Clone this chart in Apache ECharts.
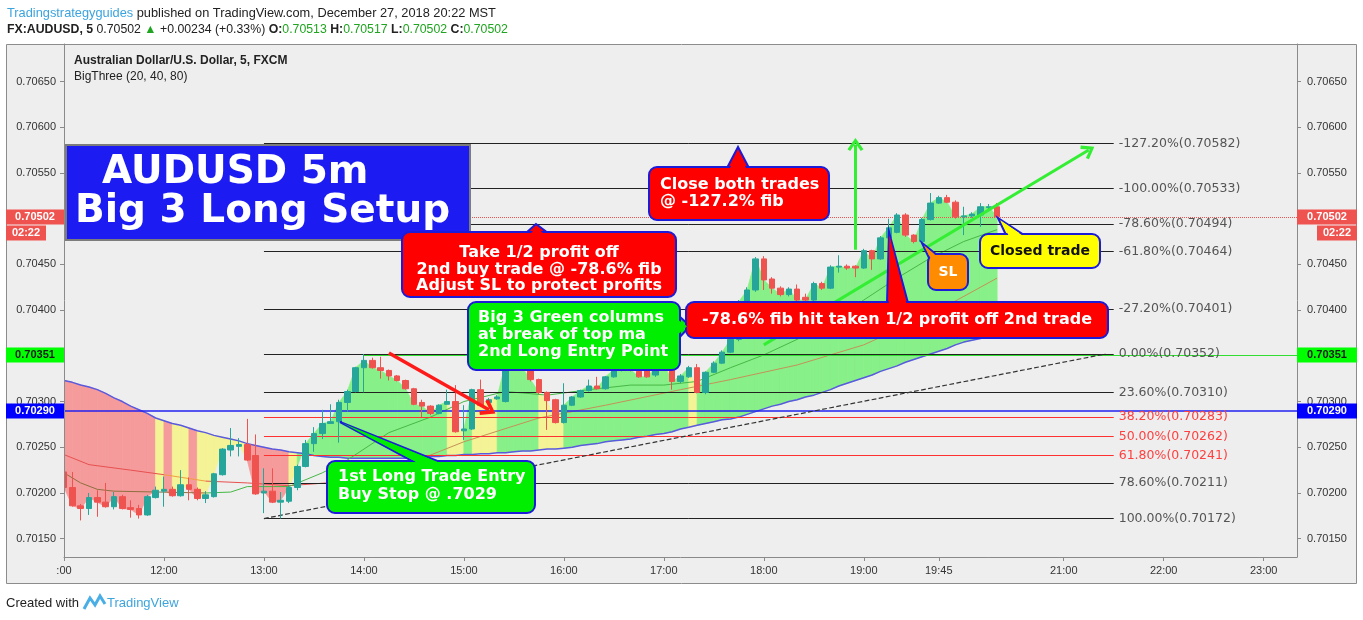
<!DOCTYPE html>
<html>
<head>
<meta charset="utf-8">
<script src="https://cdn.jsdelivr.net/npm/echarts@6.0.0/dist/echarts.min.js"></script>
<style>
html,body{margin:0;padding:0;background:#ffffff;}
#chart{width:1363px;height:620px;}
</style>
</head>
<body>
<div id="chart"></div>
<script>
// ---------------- DATA ----------------
// 5-minute categories 11:00 .. 23:20
const times = [];
for (let i = 0; i < 149; i++) {
  const m = 11 * 60 + i * 5;
  times.push(String(Math.floor(m / 60)).padStart(2, '0') + ':' + String(m % 60).padStart(2, '0'));
}
const timeTicks = ['11:00','12:00','13:00','14:00','15:00','16:00','17:00','18:00','19:00','19:45','21:00','22:00','23:00'];
const priceTicks = ['0.70150','0.70200','0.70250','0.70300','0.70350','0.70400','0.70450','0.70500','0.70550','0.70600','0.70650'];

// candles: [open, close, low, high]
const candles = [
[0.70223,0.70206,0.70203,0.70225],[0.70206,0.70186,0.70185,0.70223],[0.70186,0.70183,0.70170,0.70188],[0.70183,0.70195,0.70176,0.70200],
[0.70195,0.70190,0.70174,0.70203],[0.70190,0.70185,0.70184,0.70211],[0.70185,0.70196,0.70182,0.70201],[0.70196,0.70183,0.70182,0.70198],
[0.70184,0.70182,0.70173,0.70192],[0.70183,0.70176,0.70172,0.70187],[0.70176,0.70196,0.70175,0.70198],[0.70195,0.70203,0.70194,0.70207],
[0.70202,0.70204,0.70185,0.70218],[0.70204,0.70197,0.70196,0.70207],[0.70197,0.70209,0.70196,0.70225],[0.70209,0.70204,0.70192,0.70217],
[0.70204,0.70194,0.70192,0.70206],[0.70194,0.70198,0.70189,0.70202],[0.70196,0.70221,0.70195,0.70222],[0.70220,0.70248,0.70219,0.70249],
[0.70247,0.70252,0.70240,0.70271],[0.70251,0.70253,0.70240,0.70260],[0.70253,0.70236,0.70235,0.70281],[0.70241,0.70199,0.70198,0.70264],
[0.70200,0.70202,0.70178,0.70227],[0.70202,0.70190,0.70189,0.70227],[0.70190,0.70192,0.70172,0.70201],[0.70191,0.70206,0.70189,0.70209],
[0.70206,0.70229,0.70203,0.70231],[0.70229,0.70254,0.70228,0.70258],[0.70254,0.70265,0.70245,0.70272],[0.70265,0.70276,0.70259,0.70291],
[0.70276,0.70278,0.70276,0.70297],[0.70278,0.70299,0.70255,0.70302],[0.70299,0.70311,0.70289,0.70313],[0.70311,0.70337,0.70310,0.70338],
[0.70337,0.70345,0.70310,0.70352],[0.70345,0.70337,0.70336,0.70348],[0.70337,0.70334,0.70325,0.70349],[0.70334,0.70328,0.70323,0.70335],
[0.70328,0.70323,0.70322,0.70329],[0.70323,0.70314,0.70313,0.70324],[0.70314,0.70297,0.70296,0.70315],[0.70299,0.70295,0.70283,0.70302],
[0.70295,0.70287,0.70285,0.70296],[0.70287,0.70296,0.70286,0.70297],[0.70297,0.70300,0.70297,0.70313],[0.70300,0.70267,0.70266,0.70318],
[0.70268,0.70270,0.70258,0.70296],[0.70270,0.70313,0.70269,0.70314],[0.70313,0.70296,0.70295,0.70324],[0.70299,0.70302,0.70296,0.70304],
[0.70303,0.70305,0.70302,0.70307],[0.70300,0.70342,0.70299,0.70346],[0.70342,0.70348,0.70340,0.70351],[0.70348,0.70337,0.70335,0.70350],
[0.70335,0.70324,0.70322,0.70337],[0.70324,0.70310,0.70308,0.70325],[0.70310,0.70301,0.70269,0.70311],[0.70302,0.70277,0.70276,0.70303],
[0.70277,0.70296,0.70276,0.70320],[0.70296,0.70305,0.70295,0.70306],[0.70305,0.70312,0.70304,0.70313],[0.70312,0.70317,0.70311,0.70324],
[0.70317,0.70314,0.70313,0.70327],[0.70314,0.70327,0.70313,0.70328],[0.70327,0.70335,0.70326,0.70336],[0.70335,0.70339,0.70333,0.70341],
[0.70339,0.70335,0.70333,0.70342],[0.70333,0.70327,0.70326,0.70336],[0.70335,0.70327,0.70326,0.70337],[0.70329,0.70337,0.70327,0.70340],
[0.70337,0.70341,0.70335,0.70345],[0.70337,0.70322,0.70313,0.70341],[0.70322,0.70328,0.70320,0.70330],[0.70327,0.70337,0.70326,0.70339],
[0.70337,0.70310,0.70309,0.70341],[0.70310,0.70332,0.70308,0.70333],[0.70332,0.70342,0.70331,0.70344],[0.70342,0.70354,0.70341,0.70356],
[0.70354,0.70368,0.70353,0.70370],[0.70368,0.70409,0.70366,0.70411],[0.70409,0.70422,0.70408,0.70425],[0.70422,0.70456,0.70420,0.70458],
[0.70456,0.70433,0.70422,0.70459],[0.70434,0.70424,0.70418,0.70436],[0.70424,0.70417,0.70415,0.70426],[0.70417,0.70423,0.70415,0.70425],
[0.70423,0.70411,0.70409,0.70428],[0.70414,0.70411,0.70405,0.70418],[0.70411,0.70429,0.70409,0.70431],[0.70429,0.70424,0.70422,0.70431],
[0.70424,0.70447,0.70423,0.70449],[0.70447,0.70448,0.70441,0.70460],[0.70448,0.70446,0.70444,0.70450],[0.70448,0.70446,0.70436,0.70449],
[0.70446,0.70465,0.70445,0.70467],[0.70465,0.70456,0.70444,0.70466],[0.70456,0.70479,0.70455,0.70481],[0.70479,0.70490,0.70478,0.70500],
[0.70485,0.70504,0.70484,0.70506],[0.70504,0.70482,0.70480,0.70506],[0.70482,0.70475,0.70473,0.70483],[0.70475,0.70499,0.70474,0.70501],
[0.70499,0.70517,0.70498,0.70528],[0.70517,0.70523,0.70516,0.70525],[0.70523,0.70518,0.70517,0.70526],[0.70518,0.70502,0.70500,0.70520],
[0.70502,0.70503,0.70482,0.70513],[0.70503,0.70505,0.70501,0.70507],[0.70504,0.70513,0.70491,0.70517],[0.70512,0.70513,0.70509,0.70516],
[0.70513,0.70502,0.70502,0.70517]
];

// slow MA (80), one value per candle
const ma80 = [
0.70323,0.70321,0.70318,0.70316,0.70313, 0.70309,0.70304,0.70300,0.70295, 0.70291,0.70287,0.70282,
0.70279,0.70276,0.70274,0.70271, 0.70268,0.70266,0.70263,0.70261, 0.70259,0.70257,0.70254,0.70252,
0.70250,0.70248,0.70247,0.70245, 0.70244,0.70243,0.70241,0.70240, 0.70239,0.70239,0.70238,0.70238,
0.70238,0.70238,0.70238,0.70238,0.70238, 0.70238,0.70239,0.70239,0.70240,0.70240, 0.70241,0.70241,0.70242,
0.70242,0.70243,0.70243,0.70244,0.70244,0.70245, 0.70246,0.70246,0.70247,0.70248,0.70248,0.70249,
0.70250,0.70252,0.70253,0.70254,0.70256,0.70257, 0.70258,0.70259,0.70261,0.70262,0.70264,0.70265,
0.70267,0.70270,0.70272, 0.70274,0.70276,0.70278,0.70280,0.70281,0.70283, 0.70286,0.70289,0.70292,0.70295,0.70297,0.70300,
0.70302,0.70305,0.70307, 0.70310,0.70313,0.70317,0.70320,0.70323,0.70326, 0.70329,0.70333,0.70336,0.70339,0.70343,0.70346,
0.70349,0.70352,0.70355,0.70358,0.70362,0.70365, 0.70367,0.70369,0.70371,0.70373
];
// medium MA (40), read at sample bars [barIndex, price]
const ma40 = [[0,0.70242],[3,0.70231],[8,0.70225],[12,0.70220],[17,0.70213],[22,0.70211],[27,0.70208],[33,0.70212],
[40,0.70227],[48,0.70256],[57,0.70282],[65,0.70296],[74,0.70313],[80,0.70324],[88,0.70340],[96,0.70362],[104,0.70395],[112,0.70435]];
// fast MA (20), read at sample bars [barIndex, price]
const ma20 = [[0,0.70222],[2,0.70211],[4,0.70204],[6,0.70202],[17,0.70200],[20,0.70201],[22,0.70207],[27,0.70207],[31,0.70222],
[34,0.70236],[39,0.70266],[44,0.70283],[48,0.70300],[53,0.70311],[58,0.70307],[63,0.70313],[68,0.70318],[72,0.70318],[76,0.70322],
[80,0.70337],[84,0.70351],[88,0.70368],[92,0.70387],[96,0.70411],[100,0.70435],[104,0.70457],[108,0.70475],[112,0.70488]];
// colour runs of the two faster MAs: [fromBar, toBar]
const ma40Runs = {red1: [0, 12], orange: [12, 17], red2: [17, 33], rising: [33, 112]};
const ma20Runs = {flat: [0, 17], rising: [17, 112]};
// column state between consecutive bars: r = below, y = mixed, g = above
const columnState = ('rrrrrrrrrrr' + 'y' + 'r' + 'yy' + 'r' + 'yyyyyy' + 'rrrrr' + 'y' + 'gggggggggggggggggg' + 'yy' + 'g' + 'yyy' +
  'ggggg' + 'yyy' + 'ggggggggggggggg' + 'y' + 'gggggggggggggggggggggggggggggggggggg').split('');

// Fibonacci levels
const fibPercents = ['-127.20%','-100.00%','-78.60%','-61.80%','-27.20%','0.00%','23.60%','38.20%','50.00%','61.80%','78.60%','100.00%'];
const fibPrices = [0.70582,0.70533,0.70494,0.70464,0.70401,0.70352,0.70310,0.70283,0.70262,0.70241,0.70211,0.70172];
const fibRed = ['38.20%','50.00%','61.80%'];

// horizontal price markers
const lastPrice = 0.70502, greenLevel = 0.70351, blueLevel = 0.70290;

// ---------------- CHART ----------------
const chart = echarts.init(document.getElementById('chart'), null, {width: 1363, height: 620, renderer: 'canvas'});
const FIB_FROM = 24, FIB_TO = 126, LAST_CAT = times.length - 1;
const SANS = '"Liberation Sans", Arial, sans-serif';
const colMap = {r: '#f59b9b', y: '#f4f396', g: '#88f088'};

const fillData = [];
for (let k = 0; k < candles.length - 1; k++) {
  fillData.push([k, ma80[k], candles[k][1], ma80[k + 1], candles[k + 1][1]]);
}

const tickFn = (idx, val) => timeTicks.indexOf(val) >= 0;
const fmtPrice = v => { const s = v.toFixed(5); return priceTicks.indexOf(s) >= 0 ? s : ''; };
const runPts = (pts, run) => pts.filter(p => p[0] >= run[0] && p[0] <= run[1]);
const maLine = (name, pts, color) => ({name: name, type: 'line', z: 3, data: pts, symbol: 'none', silent: true, lineStyle: {color: color, width: 1}});

const chevron = 'path://M5,0 L10,8.5 L8.3,10 L5,4 L1.7,10 L0,8.5 Z';

const levelLines = [];
levelLines.push([{coord: [36, greenLevel], lineStyle: {color: '#30dd30', width: 1, type: 'solid'}}, {coord: [LAST_CAT, greenLevel]}]);
fibPrices.forEach((p, j) => {
  const red = fibRed.indexOf(fibPercents[j]) >= 0;
  levelLines.push([
    {coord: [FIB_FROM, p], lineStyle: {color: red ? '#ff3030' : '#222222', width: 1, type: 'solid'},
     label: {show: true, position: 'end', distance: 5, formatter: fibPercents[j] + '(' + p.toFixed(5) + ')',
             color: red ? '#ff4040' : '#555555', fontSize: 12.5, fontFamily: '"DejaVu Sans", sans-serif'}},
    {coord: [FIB_TO, p]}
  ]);
});
levelLines.push([{coord: [0, blueLevel], lineStyle: {color: '#2020f0', width: 1.5, type: 'solid'}}, {coord: [LAST_CAT, blueLevel]}]);
levelLines.push([{coord: [0, lastPrice], lineStyle: {color: '#ef5350', width: 1, type: 'dotted'}}, {coord: [LAST_CAT, lastPrice]}]);
levelLines.push([{coord: [FIB_FROM, fibPrices[11]], lineStyle: {color: '#333333', width: 1.2, type: 'dashed'}}, {coord: [125, fibPrices[5]]}]);

const drawings = [
  [{coord: [39, 0.70353], lineStyle: {color: '#ff1a1a', width: 3.5, type: 'solid'}}, {coord: [51, 0.70291], symbol: chevron, symbolSize: [18, 15]}],
  [{coord: [95, 0.70466], lineStyle: {color: '#33ee33', width: 3, type: 'solid'}}, {coord: [95, 0.70581], symbol: chevron, symbolSize: [16, 13]}],
  [{coord: [84, 0.70362], lineStyle: {color: '#33ee33', width: 3, type: 'solid'}}, {coord: [123, 0.70575], symbol: chevron, symbolSize: [16, 13]}]
];

const yAxisBase = {
  type: 'value', min: 0.70130, max: 0.70691, splitNumber: 11, scale: true, z: 20,
  splitLine: {show: false},
  axisLine: {show: true, lineStyle: {color: '#8a8a8a'}},
  axisTick: {show: true, length: 4, lineStyle: {color: '#8a8a8a'}},
  axisLabel: {color: '#333', fontSize: 11, fontFamily: SANS, formatter: fmtPrice, showMinLabel: false, showMaxLabel: false, margin: 8, hideOverlap: false}
};

const option = {
  animation: false,
  backgroundColor: '#ffffff',
  textStyle: {fontFamily: SANS},
  grid: {left: 64, right: 66, top: 44, bottom: 63, containLabel: false, outerBoundsMode: 'none'},
  xAxis: {
    type: 'category', data: times, boundaryGap: false, z: 20,
    axisLine: {lineStyle: {color: '#8a8a8a'}},
    axisTick: {interval: tickFn, length: 4, lineStyle: {color: '#8a8a8a'}},
    axisLabel: {interval: tickFn, formatter: v => (v === '11:00' ? ':00' : v), color: '#333', fontSize: 11, fontFamily: SANS, margin: 8, hideOverlap: false},
    splitLine: {show: false}
  },
  yAxis: [
    Object.assign({}, yAxisBase, {position: 'left'}),
    Object.assign({}, yAxisBase, {position: 'right', axisLabel: Object.assign({}, yAxisBase.axisLabel, {margin: 10})})
  ],
  series: [
    {
      name: 'columns', type: 'custom', z: 1, silent: true, clip: true,
      encode: {x: 0, y: [1, 2, 3, 4]},
      data: fillData,
      renderItem: (params, api) => {
        const k = api.value(0);
        const a = api.coord([k, api.value(1)]);
        const b = api.coord([k + 1, api.value(3)]);
        const c = api.coord([k + 1, api.value(4)]);
        const d = api.coord([k, api.value(2)]);
        const col = colMap[columnState[params.dataIndex]];
        return {type: 'polygon', shape: {points: [a, b, c, d]}, style: {fill: col, stroke: col, lineWidth: 0.8}};
      }
    },
    {name: 'MA80', type: 'line', z: 3, data: ma80, symbol: 'none', silent: true, lineStyle: {color: '#5a5ade', width: 1.5}},
    maLine('MA40a', runPts(ma40, ma40Runs.red1), '#e85050'),
    maLine('MA40b', runPts(ma40, ma40Runs.orange), '#f0a040'),
    maLine('MA40c', runPts(ma40, ma40Runs.red2), '#e85050'),
    maLine('MA40d', runPts(ma40, ma40Runs.rising), '#c49257'),
    maLine('MA20a', runPts(ma20, ma20Runs.flat), '#8f6f3f'),
    maLine('MA20b', runPts(ma20, ma20Runs.rising), '#46b846'),
    {name: 'levels', type: 'line', data: [], silent: true,
     markLine: {z: 4, silent: true, animation: false, symbol: ['none', 'none'], label: {show: false}, emphasis: {disabled: true}, data: levelLines}},
    {name: 'AUDUSD', type: 'candlestick', z: 6, data: candles, barWidth: 6, silent: true, clip: true,
     itemStyle: {color: '#26a69a', color0: '#ef5350', borderColor: '#26a69a', borderColor0: '#ef5350', borderWidth: 1}},
    {name: 'drawings', type: 'line', data: [], silent: true,
     markLine: {z: 9, silent: true, animation: false, symbol: ['none', 'none'], label: {show: false}, emphasis: {disabled: true}, data: drawings}}
  ]
};
chart.setOption(option);

// ---------------- GRAPHICS (frame, header, callouts, badges) ----------------
const g = [];
g.push({type: 'rect', z: -5, silent: true, shape: {x: 6.5, y: 44.5, width: 1350, height: 539}, style: {fill: '#eeeeee', stroke: '#8c8c8c', lineWidth: 1}});
// left price-scale panel hides the part of the first candle that falls outside the plot
g.push({type: 'rect', z: 7, silent: true, shape: {x: 7, y: 45, width: 57, height: 511}, style: {fill: '#eeeeee'}});

g.push({type: 'text', z: 50, x: 7, y: 13, style: {
  text: '{a|Tradingstrategyguides} published on TradingView.com, December 27, 2018 20:22 MST',
  font: '12.8px ' + SANS, fill: '#222', verticalAlign: 'middle',
  rich: {a: {fill: '#3ba3de', font: '12.8px ' + SANS}}}});
g.push({type: 'text', z: 50, x: 7, y: 30, style: {
  text: '{b|FX:AUDUSD, 5} 0.70502 {g|▲} +0.00234 (+0.33%) {b|O:}{g|0.70513} {b|H:}{g|0.70517} {b|L:}{g|0.70502} {b|C:}{g|0.70502}',
  font: '12.3px ' + SANS, fill: '#222', verticalAlign: 'middle',
  rich: {b: {font: 'bold 12.3px ' + SANS, fill: '#222'}, g: {font: '12.3px ' + SANS, fill: '#1fa51f'}}}});
g.push({type: 'text', z: 50, x: 74, y: 61, style: {text: 'Australian Dollar/U.S. Dollar, 5, FXCM', font: 'bold 12px ' + SANS, fill: '#222', verticalAlign: 'middle'}});
g.push({type: 'text', z: 50, x: 74, y: 77, style: {text: 'BigThree (20, 40, 80)', font: '12px ' + SANS, fill: '#222', verticalAlign: 'middle'}});

// footer
g.push({type: 'text', z: 50, x: 6, y: 603, style: {text: 'Created with', font: '13px ' + SANS, fill: '#222', verticalAlign: 'middle'}});
g.push({type: 'polyline', z: 50, shape: {points: [[84, 609], [90, 598], [95, 605], [100, 596], [105, 604]]}, style: {stroke: '#49aee6', lineWidth: 3, fill: null}});
g.push({type: 'text', z: 50, x: 107, y: 603, style: {text: 'TradingView', font: '13px ' + SANS, fill: '#3ea4dc', verticalAlign: 'middle'}});

// title box
g.push({type: 'rect', z: 100, shape: {x: 66, y: 145, width: 404, height: 95}, style: {fill: '#1c1cf2', stroke: '#7c7c7c', lineWidth: 2}});
g.push({type: 'text', z: 101, x: 102, y: 173, style: {text: 'AUDUSD 5m', font: 'bold 39px "DejaVu Sans", sans-serif', fill: '#ffffff', verticalAlign: 'middle'}});
g.push({type: 'text', z: 101, x: 75, y: 212, style: {text: 'Big 3 Long Setup', font: 'bold 39px "DejaVu Sans", sans-serif', fill: '#ffffff', verticalAlign: 'middle'}});

function callout(o) {
  const stroke = '#1b1bd8';
  const [ap, b1, b2] = o.ptr;
  g.push({type: 'polygon', z: 100, shape: {points: o.ptr}, style: {fill: o.fill, stroke: stroke, lineWidth: 2}});
  g.push({type: 'rect', z: 101, shape: {x: o.x, y: o.y, width: o.w, height: o.h, r: 8}, style: {fill: o.fill, stroke: stroke, lineWidth: 2}});
  const mx = (b1[0] + b2[0]) / 2, my = (b1[1] + b2[1]) / 2;
  const dx = mx - ap[0], dy = my - ap[1], L = Math.hypot(dx, dy), ux = dx / L, uy = dy / L;
  const shrink = p => [p[0] + (mx - p[0]) * 0.12 + ux * 4, p[1] + (my - p[1]) * 0.12 + uy * 4];
  g.push({type: 'polygon', z: 102, shape: {points: [[ap[0] + ux * 3, ap[1] + uy * 3], shrink(b1), shrink(b2)]}, style: {fill: o.fill}});
  g.push({type: 'text', z: 103, x: o.tx, y: o.ty, style: {text: o.text, font: o.font || 'bold 16px "DejaVu Sans", sans-serif',
    fill: o.color || '#ffffff', align: o.align || 'left', verticalAlign: 'middle', lineHeight: o.lh || 17}});
}
callout({x: 649, y: 167, w: 180, h: 53, fill: '#ff0000', ptr: [[738, 147], [727, 168], [749, 168]],
  text: 'Close both trades\n@ -127.2% fib', tx: 660, ty: 193.5});
callout({x: 402, y: 232, w: 274, h: 65, fill: '#ff0000', ptr: [[536, 224], [526, 233], [548, 233]],
  text: 'Take 1/2 profit off\n2nd buy trade @ -78.6% fib\nAdjust SL to protect profits', tx: 539, ty: 269.5, align: 'center', lh: 16.5});
callout({x: 468, y: 302, w: 212, h: 68, fill: '#00ee00', ptr: [[690, 326], [679, 316], [679, 338]],
  text: 'Big 3 Green columns\nat break of top ma\n2nd Long Entry Point', tx: 478, ty: 335});
callout({x: 686, y: 302, w: 422, h: 36, fill: '#ff0000', ptr: [[889, 232], [887, 303], [908, 303]],
  text: '-78.6% fib hit taken 1/2 profit off 2nd trade', tx: 897, ty: 320, align: 'center'});
callout({x: 980, y: 234, w: 120, h: 34, fill: '#ffff00', ptr: [[998, 218], [1006, 235], [1024, 235]],
  text: 'Closed trade', tx: 1040, ty: 251, align: 'center', color: '#111111', font: 'bold 14px "DejaVu Sans", sans-serif'});
callout({x: 928, y: 254, w: 40, h: 36, fill: '#ff8c00', ptr: [[922, 243], [929, 258], [937, 255]],
  text: 'SL', tx: 948, ty: 272, align: 'center', font: 'bold 14px "DejaVu Sans", sans-serif'});
callout({x: 327, y: 461, w: 208, h: 52, fill: '#00ee00', ptr: [[340, 422], [414, 462], [440, 462]],
  text: '1st Long Trade Entry\nBuy Stop @ .7029', tx: 338, ty: 486, lh: 18});

// price badges on both axes, placed through the y scale
const badges = [
  {v: lastPrice, bg: '#ef5350', fg: '#ffffff'},
  {v: greenLevel, bg: '#00ff00', fg: '#1a1a1a'},
  {v: blueLevel, bg: '#0000ff', fg: '#ffffff'}
];
badges.forEach(bd => {
  const y = chart.convertToPixel({yAxisIndex: 0}, bd.v);
  [[6, 58, 35], [1297, 60, 1327]].forEach(([x, w, cx]) => {
    g.push({type: 'rect', z: 60, shape: {x: x, y: Math.round(y) - 7.5, width: w, height: 15}, style: {fill: bd.bg}});
    g.push({type: 'text', z: 61, x: cx, y: y, style: {text: bd.v.toFixed(5), font: 'bold 11px ' + SANS, fill: bd.fg, align: 'center', verticalAlign: 'middle'}});
  });
  if (bd.v === lastPrice) {
    [[6, 40, 26], [1317, 40, 1337]].forEach(([x, w, cx]) => {
      g.push({type: 'rect', z: 60, shape: {x: x, y: Math.round(y) + 8.5, width: w, height: 15}, style: {fill: bd.bg}});
      g.push({type: 'text', z: 61, x: cx, y: y + 16, style: {text: '02:22', font: 'bold 11px ' + SANS, fill: bd.fg, align: 'center', verticalAlign: 'middle'}});
    });
  }
});

chart.setOption({graphic: {elements: g}});
</script>
</body>
</html>
